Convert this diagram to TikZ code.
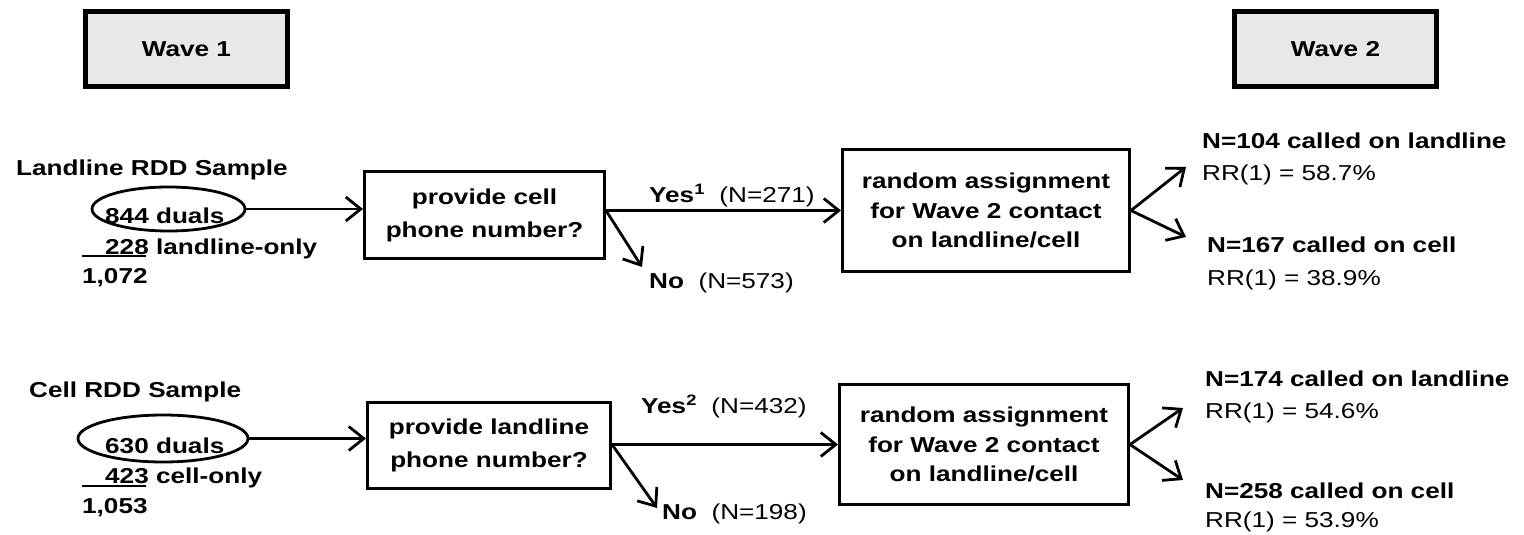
\documentclass[tikz,border=0pt]{standalone}
\usepackage{fontspec}
\setmainfont{Liberation Sans}[FakeStretch=1.21]
\usetikzlibrary{arrows.meta,shapes.geometric}
\definecolor{wavegray}{HTML}{E8E8E8}
\newcommand{\fs}{\fontsize{21.6}{25}\selectfont}
\begin{document}
\begin{tikzpicture}[x=1pt,y=-1pt,
  wavebox/.style={draw, line width=5pt, fill=wavegray, minimum width=202pt, minimum height=75pt, inner sep=0pt, font=\fs\bfseries},
  qbox/.style={draw, line width=3pt, align=center, inner sep=0pt, font=\fontsize{21.6}{33}\selectfont\bfseries},
  rbox/.style={draw, line width=3pt, align=center, inner sep=0pt, font=\fontsize{21.6}{29.5}\selectfont\bfseries},
  oval/.style={draw, ellipse, line width=2.8pt, inner sep=0pt},
  lbl/.style={anchor=base west, inner sep=0pt, font=\fs\bfseries},
  txt/.style={anchor=base west, inner sep=0pt, font=\fs},
  arr/.style={line width=2.8pt, -{Straight Barb[length=15pt,width=24pt]}},
  sumline/.style={line width=2.8pt}]
\useasboundingbox (0,0) rectangle (1524,535);

% wave headers
\node[wavebox] (w1) at (186.5,49) {Wave 1};
\node[wavebox] (w2) at (1335.5,49) {Wave 2};

% ---------- landline row ----------
\node[lbl] (t1) at (16,175) {Landline RDD Sample};
\node[oval, minimum width=153pt, minimum height=44pt] (e1) at (168.5,209) {};
\node[lbl] (d1) at (105,223) {844 duals};
\node[lbl] (o1) at (105,254) {228 landline-only};
\coordinate (s1a) at (82,256);
\coordinate (s1b) at (146,256);
\draw[sumline] (s1a) -- (s1b);
\node[lbl] (n1) at (82,283) {1,072};

\node[qbox, minimum width=240pt, minimum height=87pt] (q1) at (484.5,215) {provide cell\\phone number?};
\node[rbox, minimum width=287pt, minimum height=122pt] (r1) at (986,210.5) {random assignment\\for Wave 2 contact\\on landline/cell};

\draw[arr] (e1.east) -- (e1.east -| q1.west);
\coordinate (y1) at (q1.east |- r1.west);
\draw[arr] (y1) -- (r1.west);
\coordinate (no1) at (642,267);
\draw[arr] (y1) -- (no1);
\node[txt] (ya1) at (649,202) {\textbf{Yes\textsuperscript{1}}\ \ (N=271)};
\node[txt] (na1) at (649,288) {\textbf{No}\ \ (N=573)};

\coordinate (u1) at (1186,167);
\coordinate (c1) at (1186,237);
\draw[arr] (r1.east) -- (u1);
\draw[arr] (r1.east) -- (c1);
\node[lbl] (l1) at (1202,148) {N=104 called on landline};
\node[txt] (rr1) at (1202,180) {RR(1) = 58.7\%};
\node[lbl] (l2) at (1207,252) {N=167 called on cell};
\node[txt] (rr2) at (1207,285) {RR(1) = 38.9\%};

% ---------- cell row ----------
\node[lbl] (t2) at (29,397) {Cell RDD Sample};
\node[oval, minimum width=170pt, minimum height=47pt] (e2) at (163,438.5) {};
\node[lbl] (d2) at (105,453) {630 duals};
\node[lbl] (o2) at (105,483) {423 cell-only};
\coordinate (s2a) at (82,486);
\coordinate (s2b) at (146,486);
\draw[sumline] (s2a) -- (s2b);
\node[lbl] (n2) at (82,513) {1,053};

\node[qbox, minimum width=243pt, minimum height=86pt] (q2) at (489,445.5) {provide landline\\phone number?};
\node[rbox, minimum width=289pt, minimum height=120pt] (r2) at (984,444.5) {random assignment\\for Wave 2 contact\\on landline/cell};

\draw[arr] (e2.east) -- (e2.east -| q2.west);
\coordinate (y2) at (q2.east |- r2.west);
\draw[arr] (y2) -- (r2.west);
\coordinate (no2) at (657,508);
\draw[arr] (y2) -- (no2);
\node[txt] (ya2) at (641,413) {\textbf{Yes\textsuperscript{2}}\ \ (N=432)};
\node[txt] (na2) at (662,519) {\textbf{No}\ \ (N=198)};

\coordinate (u2) at (1183,408);
\coordinate (c2) at (1183,480);
\draw[arr] (r2.east) -- (u2);
\draw[arr] (r2.east) -- (c2);
\node[lbl] (l3) at (1205,386) {N=174 called on landline};
\node[txt] (rr3) at (1205,418) {RR(1) = 54.6\%};
\node[lbl] (l4) at (1205,498) {N=258 called on cell};
\node[txt] (rr4) at (1205,527) {RR(1) = 53.9\%};
\end{tikzpicture}
\end{document}
